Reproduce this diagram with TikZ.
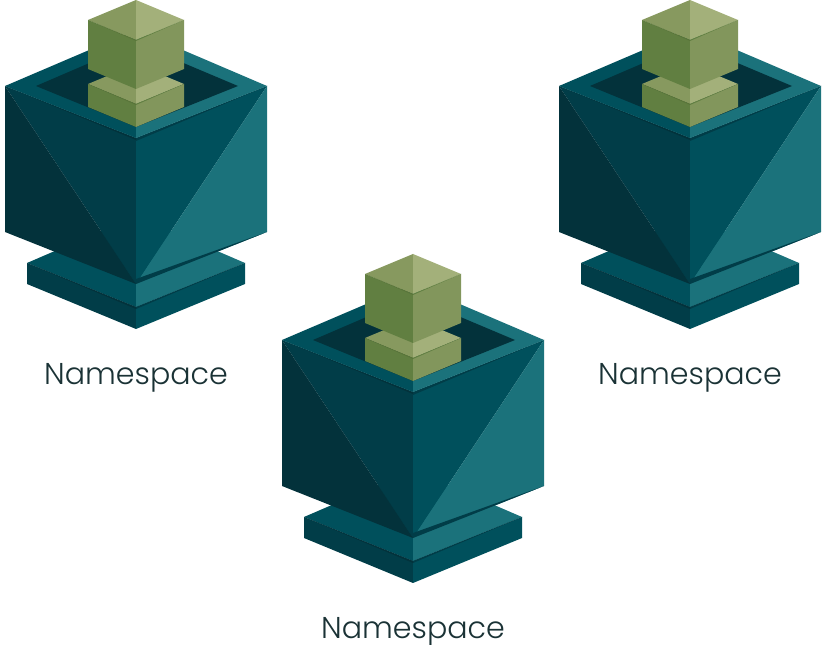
\documentclass[tikz,border=0pt]{standalone}
\usepackage{fontspec}
\setmainfont{Poppins Light}
\definecolor{tealdark}{HTML}{03323B}
\definecolor{tealmid}{HTML}{013D48}
\definecolor{tealbase}{HTML}{00505C}
\definecolor{teallight}{HTML}{1B727B}
\definecolor{greenedge}{HTML}{5A7539}
\definecolor{greendark}{HTML}{617F41}
\definecolor{greenmid}{HTML}{82965C}
\definecolor{greentop}{HTML}{87995F}
\definecolor{greenpale}{HTML}{A3B07A}
\definecolor{labeltext}{HTML}{1A3235}
\tikzset{facet/.style={fill=#1,draw=none},
  cratelabel/.style={text=labeltext,font=\fontsize{22.6}{28}\selectfont,inner sep=0pt}}
\begin{document}
\begin{tikzpicture}[x=0.75pt,y=-0.75pt]
  \useasboundingbox (0,0) rectangle (826,645);
  \foreach \dx/\dy/\nm in {0/0/left,554/0/right,277/254/middle}{
    \begin{scope}[shift={(\dx,\dy)}]
      % base plate
      \fill[facet=tealbase] (27,263) -- (136,216) -- (136,307) -- cycle;
      \fill[facet=teallight] (245,263) -- (136,216) -- (136,307) -- cycle;
      \fill[facet=tealmid] (27,263) -- (136,307) -- (136,329) -- (27,284) -- cycle;
      \fill[facet=tealbase] (245,263) -- (136,307) -- (136,329) -- (245,284) -- cycle;
      \fill[facet=tealmid] (245,263) -- (136,307) -- (136,309) -- cycle;
      \fill[facet=tealdark] (27,263) -- (136,307) -- (136,309) -- cycle;
      % box
      \fill[facet=tealmid] (5,86) -- (136,138) -- (136,284) -- cycle;
      \fill[facet=tealdark] (5,86) -- (136,284) -- (5,232) -- cycle;
      \fill[facet=tealbase] (267,86) -- (136,138) -- (136,284) -- cycle;
      \fill[facet=teallight] (267,86) -- (136,284) -- (267,232) -- cycle;
      \fill[facet=tealmid] (136,284) -- (267,232) -- (136,279) -- cycle;
      \fill[facet=tealmid] (267,86) -- (136,138) -- (136,141) -- cycle;
      \fill[facet=tealdark] (5,86) -- (136,138) -- (136,140) -- cycle;
      % rim and hole
      \fill[facet=tealbase] (5,86) -- (136,30) -- (136,138) -- cycle;
      \fill[facet=teallight] (267,86) -- (136,30) -- (136,138) -- cycle;
      \fill[facet=tealdark] (36,86) -- (136,43) -- (238,86) -- (136,127) -- cycle;
      % small block
      \fill[facet=greentop] (88,84) -- (136,64) -- (136,104) -- cycle;
      \fill[facet=greenpale] (184,84) -- (136,64) -- (136,104) -- cycle;
      \fill[facet=greendark] (88,84) -- (136,104) -- (136,127) -- (88,107) -- cycle;
      \fill[facet=greenmid] (184,84) -- (136,104) -- (136,127) -- (184,107) -- cycle;
      \fill[facet=greenedge] (88,84) -- (136,104) -- (136,105) -- cycle;
      \fill[facet=greendark] (184,84) -- (136,104) -- (136,105) -- cycle;
      % cube
      \fill[facet=greentop] (88,20) -- (136,0) -- (136,40) -- cycle;
      \fill[facet=greenpale] (184,20) -- (136,0) -- (136,40) -- cycle;
      \fill[facet=greendark] (88,20) -- (136,40) -- (136,89) -- (88,69) -- cycle;
      \fill[facet=greenmid] (184,20) -- (136,40) -- (136,89) -- (184,69) -- cycle;
      \fill[facet=greenedge] (88,20) -- (136,40) -- (136,41) -- cycle;
      \fill[facet=greendark] (184,20) -- (136,40) -- (136,41) -- cycle;
      \node[cratelabel] (label\nm) at (136,378) {Namespace};
    \end{scope}
  }
\end{tikzpicture}
\end{document}
